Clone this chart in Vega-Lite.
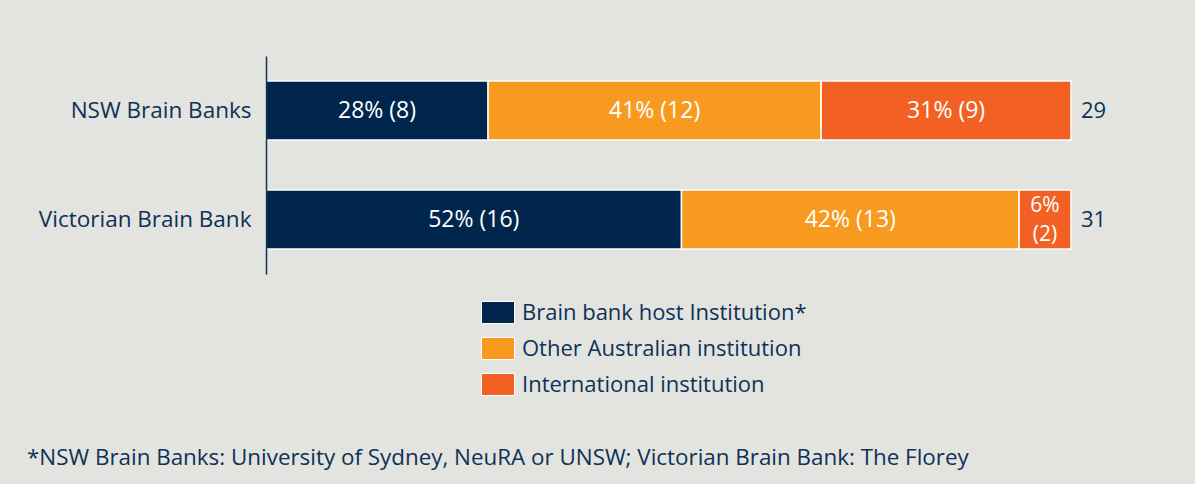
{
  "$schema": "https://vega.github.io/schema/vega-lite/v6.json",
  "width": 805,
  "height": 218,
  "autosize": {"type": "none"},
  "padding": {"left": 266, "top": 56, "right": 124, "bottom": 210},
  "background": "#e3e4df",
  "config": {"view": {"stroke": null}, "font": "Open Sans"},
  "title": {
    "text": "*NSW Brain Banks: University of Sydney, NeuRA or UNSW; Victorian Brain Bank: The Florey",
    "orient": "bottom",
    "anchor": "start",
    "frame": "group",
    "dx": -239,
    "offset": 67,
    "baseline": "alphabetic",
    "fontSize": 22.4,
    "fontWeight": "normal",
    "color": "#0e3157",
    "font": "Open Sans"
  },
  "data": {
    "values": [
      {"bank": "NSW Brain Banks", "category": "Brain bank host Institution*", "ord": 1, "count": 8, "label": "28% (8)"},
      {"bank": "NSW Brain Banks", "category": "Other Australian institution", "ord": 2, "count": 12, "label": "41% (12)"},
      {"bank": "NSW Brain Banks", "category": "International institution", "ord": 3, "count": 9, "label": "31% (9)"},
      {"bank": "Victorian Brain Bank", "category": "Brain bank host Institution*", "ord": 1, "count": 16, "label": "52% (16)"},
      {"bank": "Victorian Brain Bank", "category": "Other Australian institution", "ord": 2, "count": 13, "label": "42% (13)"},
      {"bank": "Victorian Brain Bank", "category": "International institution", "ord": 3, "count": 2, "label": "6%\n(2)"}
    ]
  },
  "encoding": {
    "y": {
      "field": "bank",
      "type": "nominal",
      "sort": ["NSW Brain Banks", "Victorian Brain Bank"],
      "scale": {"paddingInner": 0, "paddingOuter": 0},
      "axis": {
        "title": null,
        "ticks": false,
        "labelFontSize": 22.5,
        "labelColor": "#0e3157",
        "labelFont": "Open Sans",
        "labelPadding": 15,
        "labelLimit": 300,
        "domainColor": "#0e3157",
        "domainWidth": 1.5,
        "zindex": 1
      }
    }
  },
  "layer": [
    {
      "mark": {"type": "bar", "size": 59, "stroke": "white", "strokeWidth": 1.5},
      "encoding": {
        "x": {"field": "count", "type": "quantitative", "stack": "normalize", "scale": {"domain": [0, 1]}, "axis": null},
        "order": {"field": "ord", "type": "quantitative"},
        "color": {
          "field": "category",
          "type": "nominal",
          "scale": {
            "domain": ["Brain bank host Institution*", "Other Australian institution", "International institution"],
            "range": ["#00264d", "#f89a1f", "#f26123"]
          },
          "legend": {
            "title": null,
            "orient": "none",
            "legendX": 220.5,
            "legendY": 245,
            "direction": "vertical",
            "padding": 0,
            "symbolType": "M-1.5,-1H1.5V1H-1.5Z",
            "symbolSize": 484,
            "symbolStrokeColor": "white",
            "symbolStrokeWidth": 1,
            "symbolOpacity": 1,
            "labelFontSize": 22,
            "labelFont": "Open Sans",
            "labelColor": "#0e3157",
            "labelOffset": 12.5,
            "labelLimit": 400,
            "rowPadding": 9
          }
        }
      }
    },
    {
      "transform": [
        {"stack": "count", "groupby": ["bank"], "sort": [{"field": "ord"}], "offset": "normalize", "as": ["x0", "x1"]},
        {"calculate": "(datum.x0 + datum.x1) / 2", "as": "xm"},
        {"filter": "indexof(datum.label, '\\n') < 0"}
      ],
      "mark": {"type": "text", "color": "white", "fontSize": 23, "baseline": "middle", "align": "center"},
      "encoding": {
        "x": {"field": "xm", "type": "quantitative", "scale": {"domain": [0, 1]}},
        "text": {"field": "label"}
      }
    },
    {
      "transform": [
        {"stack": "count", "groupby": ["bank"], "sort": [{"field": "ord"}], "offset": "normalize", "as": ["x0", "x1"]},
        {"calculate": "(datum.x0 + datum.x1) / 2", "as": "xm"},
        {"filter": "indexof(datum.label, '\\n') >= 0"}
      ],
      "mark": {"type": "text", "color": "white", "fontSize": 21, "lineBreak": "\n", "lineHeight": 29, "baseline": "middle", "align": "center", "dy": -14},
      "encoding": {
        "x": {"field": "xm", "type": "quantitative", "scale": {"domain": [0, 1]}},
        "text": {"field": "label"}
      }
    },
    {
      "transform": [{"aggregate": [{"op": "sum", "field": "count", "as": "total"}], "groupby": ["bank"]}],
      "mark": {"type": "text", "color": "#0e3157", "fontSize": 22, "align": "left", "baseline": "middle", "dx": 10},
      "encoding": {
        "x": {"datum": 1, "type": "quantitative"},
        "text": {"field": "total"}
      }
    }
  ]
}
